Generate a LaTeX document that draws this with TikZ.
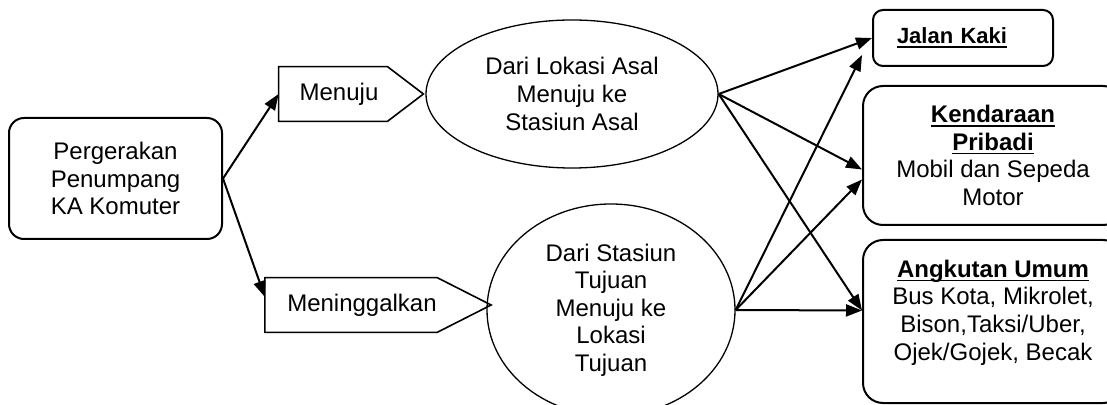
\documentclass[tikz,border=0pt]{standalone}
\usepackage{fontspec}
\setmainfont{Liberation Sans}
\usepackage{tikz}
\usetikzlibrary{arrows.meta}
\usetikzlibrary{positioning}
\usetikzlibrary{shapes.geometric}
\tikzstyle{every node}+=[inner sep=0pt]
\tikzstyle{block} = [rectangle, draw, line width=1pt, font=\fontsize{12}{13.8}\selectfont, align=center, rounded corners=7.5pt]
\tikzstyle{tag} = [rectangle, font=\fontsize{12}{13.8}\selectfont, align=center, minimum height=27pt]
\tikzstyle{oval} = [ellipse, draw, line width=0.65pt, font=\fontsize{12}{13.8}\selectfont, align=center]
\tikzstyle{line} = [draw, line width=1pt, -{Triangle[length=8pt, width=6pt]}]
\newcommand{\headline}[1]{\leavevmode\setbox0\hbox{\textbf{#1}}\rlap{\rule[-2pt]{\wd0}{0.75pt}}\box0}

\begin{document}
\begin{tikzpicture}[x=0.5pt, y=-0.5pt]
            \clip (0,0) rectangle (1107,405);
            % Place nodes
            \node [block, minimum width=106.5pt, minimum height=60.5pt] (perg) at (115.5,178.5) {Pergerakan\\Penumpang\\KA Komuter};
            \node [tag, minimum width=54pt] (menuju) at (333,94) {\hspace{6pt}Menuju};
            \node [tag, minimum width=84pt] (mening) at (351,305) {\hspace{11pt}Meninggalkan};
            \node [oval, minimum width=146pt, minimum height=74pt] (asal) at (572,94) {Dari Lokasi Asal\\Menuju ke\\Stasiun Asal};
            \node [oval, minimum width=124pt, minimum height=106pt] (tujuan) at (611,310) {Dari Stasiun\\Tujuan\\Menuju ke\\Lokasi\\Tujuan};
            \node [block, rounded corners=5pt, minimum height=28pt, text width=66pt, inner xsep=12pt, align=left, font=\fontsize{11}{13}\selectfont] (jalan) at (963,38) {\headline{Jalan Kaki}};
            \node [block, rounded corners=10pt, minimum width=130pt, minimum height=69.5pt] (kend) at (993,155.5) {\headline{Kendaraan}\\\headline{Pribadi}\\Mobil dan Sepeda\\Motor};
            \node [block, rounded corners=10pt, minimum width=130pt, minimum height=81.5pt] (angk) at (993,321.5) {};
            \node [tag, yshift=4.5pt] (angktext) at (angk.center) {\headline{Angkutan Umum}\\Bus Kota, Mikrolet,\\Bison,Taksi/Uber,\\Ojek/Gojek, Becak};
            % Arrow outlines
            \draw [line width=0.8pt] (menuju.north west) -- (menuju.north east) -- ([xshift=18pt]menuju.east) -- (menuju.south east) -- (menuju.south west) -- cycle;
            \draw [line width=0.8pt] (mening.north west) -- (mening.north east) -- ([xshift=27pt]mening.east) -- (mening.south east) -- (mening.south west) -- cycle;
            % Draw edges
            \path [line] (perg.east) -- (menuju.west);
            \path [line] (perg.east) -- ([yshift=4pt]mening.west);
            \path [line] (asal.east) -- (jalan.west);
            \path [line] (asal.east) -- ([yshift=-7pt]kend.west);
            \path [line] (asal.east) -- ([yshift=5.5pt]angk.west);
            \path [line] (tujuan.east) -- ([shift={(-5pt,-8.5pt)}]jalan.west);
            \path [line] (tujuan.east) -- ([yshift=-12pt]kend.west);
            \path [line] (tujuan.east) -- ([yshift=5.5pt]angk.west);
          \end{tikzpicture}
\end{document}
